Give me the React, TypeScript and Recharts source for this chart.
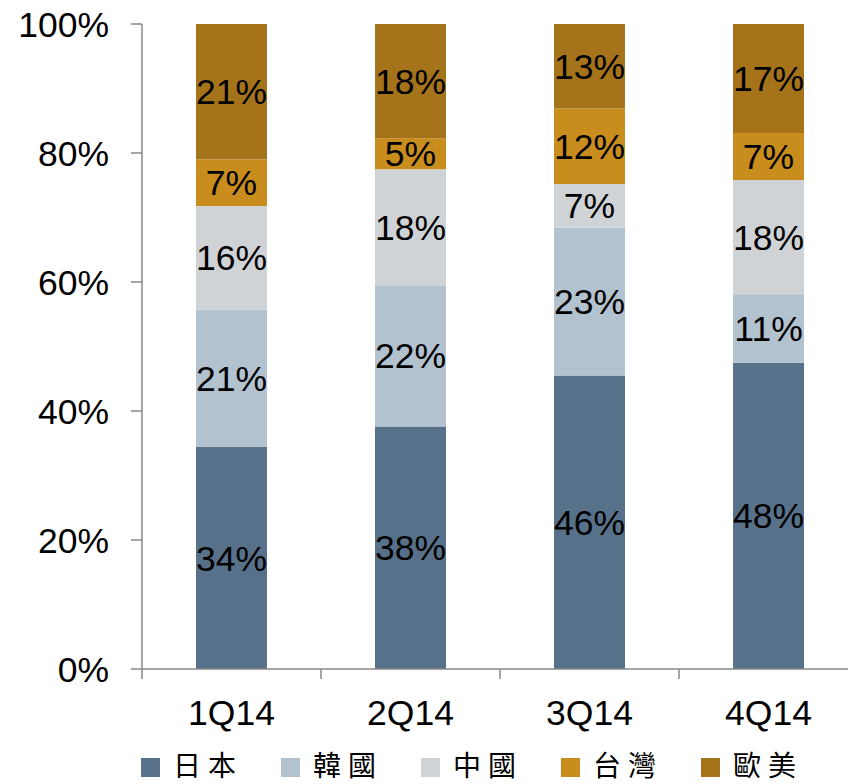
import React from 'react';
import { BarChart, Bar, XAxis, YAxis, LabelList } from 'recharts';

const categories = ['1Q14', '2Q14', '3Q14', '4Q14'];
const japan = [34.4, 37.6, 45.5, 47.5];
const korea = [21.3, 21.9, 22.9, 10.6];
const china = [16.1, 18.0, 6.8, 17.7];
const taiwan = [7.2, 4.8, 11.7, 7.3];
const euus = [21.0, 17.7, 13.1, 16.9];
const yTicks = [0, 20, 40, 60, 80, 100];

const series = [
  { key: 'japan', name: '日本', values: japan, color: '#58718a' },
  { key: 'korea', name: '韓國', values: korea, color: '#b2c2cf' },
  { key: 'china', name: '中國', values: china, color: '#d0d3d6' },
  { key: 'taiwan', name: '台灣', values: taiwan, color: '#c98d1e' },
  { key: 'euus', name: '歐美', values: euus, color: '#a5741a' },
];

const data = categories.map((c, i) => {
  const row: any = { cat: c };
  series.forEach((s) => (row[s.key] = s.values[i]));
  return row;
});

const CHART_W = 870;
const CHART_H = 784;
const MARGIN = { top: 24, right: 12, bottom: 55, left: 0 };
const Y_W = 142;
const X_H = 60;
const BAND = (CHART_W - MARGIN.left - MARGIN.right - Y_W) / categories.length;
const AXIS_COLOR = '#898989';
const FONT = '"Liberation Sans", Arial, sans-serif';

const XTick = (props: any) => {
  const { x, y, payload, index } = props;
  const half = BAND / 2;
  const isLast = index === categories.length - 1;
  return (
    <g>
      <line x1={x - half} y1={y} x2={x - half} y2={y + 10} stroke={AXIS_COLOR} strokeWidth={1.5} />
      {isLast && (
        <line x1={x + half} y1={y} x2={x + half} y2={y + 10} stroke={AXIS_COLOR} strokeWidth={1.5} />
      )}
      <text x={x} y={y + 56} textAnchor="middle" fontSize={35.5} fontFamily={FONT} fill="#000">
        {payload.value}
      </text>
    </g>
  );
};

export default function App() {
  return (
    <div style={{ position: 'absolute', left: 0, top: 0, width: 848, height: 784, overflow: 'hidden', background: '#fff' }}>
      <BarChart width={CHART_W} height={CHART_H} data={data} margin={MARGIN}>
        <XAxis
          dataKey="cat"
          height={X_H}
          tickLine={false}
          tickSize={0}
          tickMargin={0}
          axisLine={{ stroke: AXIS_COLOR, strokeWidth: 1.5 }}
          tick={<XTick />}
          interval={0}
        />
        <YAxis
          width={Y_W}
          domain={[0, 100]}
          ticks={yTicks}
          allowDataOverflow
          tickFormatter={(v: number) => `${v}%`}
          tickSize={11}
          tickMargin={22}
          tickLine={{ stroke: AXIS_COLOR, strokeWidth: 1.5 }}
          axisLine={{ stroke: AXIS_COLOR, strokeWidth: 1.5 }}
          tick={{ fontSize: 35.5, fontFamily: FONT, fill: '#000' }}
        />
        {series.map((s) => (
          <Bar key={s.key} dataKey={s.key} name={s.name} stackId="a" fill={s.color} barSize={71} isAnimationActive={false}>
            <LabelList
              dataKey={s.key}
              position="center"
              formatter={(v: any) => `${Math.round(Number(v))}%`}
              style={{ fontSize: 35.5, fontFamily: FONT, fill: '#000' }}
            />
          </Bar>
        ))}
      </BarChart>
      {series.map((s, i) => (
        <div
          key={s.key}
          style={{ position: 'absolute', left: 141 + i * 140, top: 751, height: 32, display: 'flex', alignItems: 'center', whiteSpace: 'nowrap' }}
        >
          <div style={{ width: 19, height: 19, background: s.color, marginRight: 13, flex: 'none' }} />
          <span style={{ fontFamily: '"Liberation Sans", "Noto Sans CJK TC", sans-serif', fontSize: 28, letterSpacing: 7, lineHeight: '32px', color: '#000' }}>
            {s.name}
          </span>
        </div>
      ))}
    </div>
  );
}
